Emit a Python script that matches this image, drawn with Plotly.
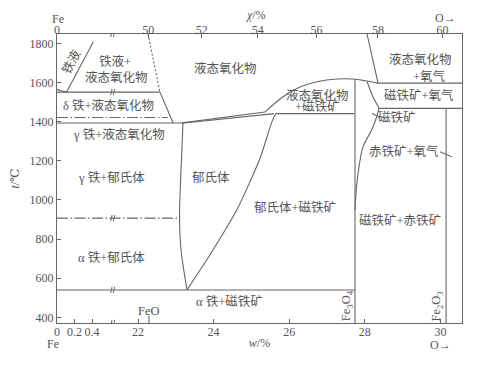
import plotly.graph_objects as go

# ---------------- axis calibration ----------------
X_MIN, X_MAX = 19.857, 30.571      # bottom axis (w/% O); left of the break = stretched Fe-rich side
T_MIN, T_MAX = 371, 1848
FE_K = 2.315                        # axis units per 1 % O on the stretched Fe-rich scale
BREAK_X = 21.33


def fe(w):
    """Position of a Fe-rich composition (w/% O) on the stretched part of the axis."""
    return X_MIN + FE_K * w


def at_to_wt(x):
    """Atomic % O -> weight % O (used for the top axis)."""
    return 1600.0 * x / (16.0 * x + 55.85 * (100.0 - x))


# ---------------- tick labels ----------------
y_ticks = [400, 600, 800, 1000, 1200, 1400, 1600, 1800]
bottom_fe_ticks = [0, 0.2, 0.4]
bottom_fe_text = ["0", "0.2", "0.4"]
bottom_ticks = [22, 24, 26, 28, 30]
top_at_ticks = [50, 52, 54, 56, 58, 60]

# ---------------- phase boundaries (w/% O, t/°C) ----------------
# Fe-rich side (real w/% O, drawn on the stretched scale)
fe_liquidus_w = [0.415, 0.11]
fe_liquidus_t = [1808, 1551]
fe_delta_w = [0.0, 0.046, 0.11]
fe_delta_t = [1565, 1558, 1551]

# isotherms that start at pure Fe
monotectic_t, monotectic_end = 1551, 22.58
gamma_liq_t, gamma_liq_end = 1393, 23.16
delta_gamma_t, delta_gamma_end = 1421, 22.79
alpha_gamma_t, alpha_gamma_end = 907, 23.11
eutectoid_t, eutectoid_end = 540, 27.74

# liquid oxide limit on the iron side
oxide_left_dot_w = [22.265, 22.58]
oxide_left_dot_t = [1848, 1551]
oxide_left_w = [22.58, 22.93]
oxide_left_t = [1551, 1393]

# wustite liquidus / solidus (double line)
wustite_liq_w = [23.16, 25.36]
wustite_liq_t = [1394, 1449]
wustite_sol_w = [23.16, 25.60]
wustite_sol_t = [1392, 1441]

# wustite field
wustite_left_w = [23.19, 23.138, 23.098, 23.138, 23.296]
wustite_left_t = [1393, 1153, 923, 744, 540]
wustite_right_w = [25.65, 25.56, 25.23, 24.963, 24.611, 23.984, 23.296]
wustite_right_t = [1441, 1408, 1214, 1093, 948, 744, 540]

# peritectic (liquid oxide + magnetite)
peritectic_t, peritectic_w0, peritectic_w1 = 1441, 25.65, 27.72

# liquidus of liquid oxide against magnetite
oxide_liquidus_w = [25.36, 25.836, 26.286, 26.735, 27.265, 27.688, 28.005, 28.349]
oxide_liquidus_t = [1449, 1527, 1577, 1604, 1618, 1618, 1609, 1597]

# stoichiometric lines
fe3o4_w, fe3o4_t = [27.74, 27.74], [1618, T_MIN]
fe2o3_w, fe2o3_t = [30.15, 30.15], [1468, T_MIN]

# oxygen-rich side
o2_liquidus_w = [28.058, 28.35]
o2_liquidus_t = [1848, 1597]
mag_o2_top_t, mag_o2_top_w0 = 1597, 28.35
mag_o2_bot_t, mag_o2_bot_w0 = 1468, 28.376
magnetite_upper_w = [28.06, 28.217, 28.376]
magnetite_upper_t = [1605, 1526, 1470]
magnetite_lower_w = [28.376, 28.315, 28.18, 27.95, 27.79, 27.74]
magnetite_lower_t = [1470, 1425, 1357, 1270, 1086, 948]

# label leader ticks
leader1_w, leader1_t = [28.19, 28.40], [1442, 1422]
leader2_w, leader2_t = [29.99, 30.30], [1246, 1221]

# ---------------- styling ----------------
LINE = "#666666"
TXT = "#555555"
NUM_FONT = "Liberation Serif, DejaVu Serif, serif"
CJK_FONT = "Liberation Serif, Noto Sans CJK SC, serif"

fig = go.Figure()


def add_line(x, y, dash="solid", width=1.1, shape="linear"):
    fig.add_trace(go.Scatter(x=x, y=y, mode="lines", hoverinfo="skip",
                             line=dict(color=LINE, width=width, dash=dash, shape=shape,
                                       smoothing=0.8),
                             showlegend=False))


DASHDOT = "11px,2.5px,1.5px,2.5px"

add_line([fe(w) for w in fe_liquidus_w], fe_liquidus_t)
add_line([fe(w) for w in fe_delta_w], fe_delta_t, shape="spline")
add_line([fe(0), monotectic_end], [monotectic_t, monotectic_t])
add_line([fe(0), gamma_liq_end], [gamma_liq_t, gamma_liq_t])
add_line([fe(0), delta_gamma_end], [delta_gamma_t, delta_gamma_t], dash=DASHDOT)
add_line([fe(0), alpha_gamma_end], [alpha_gamma_t, alpha_gamma_t], dash=DASHDOT)
add_line([fe(0), eutectoid_end], [eutectoid_t, eutectoid_t])
add_line(oxide_left_dot_w, oxide_left_dot_t, dash="2px,2px")
add_line(oxide_left_w, oxide_left_t)
add_line(wustite_liq_w, wustite_liq_t)
add_line(wustite_sol_w, wustite_sol_t)
add_line(wustite_left_w, wustite_left_t, shape="spline")
add_line(wustite_right_w, wustite_right_t, shape="spline")
add_line([peritectic_w0, peritectic_w1], [peritectic_t, peritectic_t])
add_line(oxide_liquidus_w, oxide_liquidus_t, shape="spline")
add_line(fe3o4_w, fe3o4_t)
add_line(fe2o3_w, fe2o3_t)
add_line(o2_liquidus_w, o2_liquidus_t)
add_line([mag_o2_top_w0, X_MAX], [mag_o2_top_t, mag_o2_top_t])
add_line([mag_o2_bot_w0, X_MAX], [mag_o2_bot_t, mag_o2_bot_t])
add_line(magnetite_upper_w, magnetite_upper_t, shape="spline")
add_line(magnetite_lower_w, magnetite_lower_t, shape="spline")
add_line(leader1_w, leader1_t)
add_line(leader2_w, leader2_t)
# FeO marker on the bottom axis
add_line([22.29, 22.29], [T_MIN, T_MIN + 36])

# invisible trace so the top axis is drawn
fig.add_trace(go.Scatter(x=[X_MIN, X_MAX], y=[T_MIN, T_MIN], xaxis="x2", mode="lines",
                         line=dict(width=0), hoverinfo="skip", showlegend=False))

# axis break marks "//"
break_levels = [T_MAX, monotectic_t, alpha_gamma_t, eutectoid_t, T_MIN]
for t in break_levels:
    for k in (-1, 1):
        x0 = BREAK_X + k * 0.035
        fig.add_shape(type="line", xref="x", yref="y",
                      x0=x0 - 0.02, x1=x0 + 0.02, y0=t - 16, y1=t + 16,
                      line=dict(color=LINE, width=1))

# ---------------- region labels ----------------
labels = [
    ("铁液+", 21.40, 1705, 0),
    ("液态氧化物", 21.42, 1628, 0),
    ("液态氧化物", 24.32, 1674, 0),
    ("δ 铁+液态氧化物", 21.21, 1485, 0),
    ("γ 铁+液态氧化物", 21.49, 1332, 0),
    ("γ 铁+郁氏体", 21.29, 1117, 0),
    ("郁氏体", 23.93, 1117, 0),
    ("α 铁+郁氏体", 21.29, 708, 0),
    ("α 铁+磁铁矿", 24.43, 483, 0),
    ("FeO", 22.29, 430, 0),
    ("郁氏体+磁铁矿", 26.15, 959, 0),
    ("液态氧化物", 26.76, 1536, 0),
    ("+磁铁矿", 26.76, 1479, 0),
    ("液态氧化物", 29.46, 1720, 0),
    ("+氧气", 29.72, 1633, 0),
    ("磁铁矿+氧气", 29.43, 1536, 0),
    ("磁铁矿", 28.85, 1423, 0),
    ("赤铁矿+氧气", 29.04, 1245, 0),
    ("磁铁矿+赤铁矿", 28.93, 897, 0),
    ("铁液", 20.23, 1710, -62),
    ("Fe<sub>3</sub>O<sub>4</sub>", 27.53, 457, -90),
    ("Fe<sub>2</sub>O<sub>3</sub>", 29.92, 457, -90),
]
for text, x, y, ang in labels:
    fig.add_annotation(x=x, y=y, xref="x", yref="y", text=text, showarrow=False,
                       textangle=ang, xanchor="center", yanchor="middle",
                       font=dict(family=CJK_FONT, size=12.5, color=TXT))

# end-member labels and top-axis title (paper coordinates)
for text, x, y in [("Fe", 0.003, 1.053), ("O→", 0.960, 1.056),
                   ("Fe", -0.010, -0.072), ("O→", 0.948, -0.075),
                   ("<i>χ</i>/%", 0.491, 1.066)]:
    fig.add_annotation(x=x, y=y, xref="paper", yref="paper", text=text, showarrow=False,
                       xanchor="center", yanchor="middle",
                       font=dict(family=NUM_FONT, size=12, color=TXT))

# The page body has an 8 px margin, so the figure is offset by (8, 8)
fig.update_layout(
    width=491, height=358,
    margin=dict(l=49, r=37, t=26, b=43, autoexpand=False),
    paper_bgcolor="white", plot_bgcolor="white",
    xaxis=dict(range=[X_MIN, X_MAX], showgrid=False, zeroline=False, automargin=False,
               showline=True, mirror=True, linecolor=LINE, linewidth=1.1,
               ticks="inside", ticklen=4, tickcolor=LINE, ticklabelstandoff=-2,
               tickvals=[fe(w) for w in bottom_fe_ticks] + bottom_ticks,
               ticktext=bottom_fe_text + [str(v) for v in bottom_ticks],
               tickfont=dict(family=NUM_FONT, size=12, color=TXT),
               title=dict(text="<i>w</i>/%", standoff=0,
                          font=dict(family=NUM_FONT, size=12, color=TXT))),
    xaxis2=dict(range=[X_MIN, X_MAX], overlaying="x", side="top", showgrid=False,
                zeroline=False, showline=False, automargin=False,
                ticks="inside", ticklen=4, tickcolor=LINE, ticklabelstandoff=-3,
                tickvals=[fe(0)] + [at_to_wt(v) for v in top_at_ticks],
                ticktext=["0"] + [str(v) for v in top_at_ticks],
                tickfont=dict(family=NUM_FONT, size=12, color=TXT)),
    yaxis=dict(range=[T_MIN, T_MAX], showgrid=False, zeroline=False, automargin=False,
               showline=True, mirror=True, linecolor=LINE, linewidth=1.1,
               ticks="inside", ticklen=4, tickcolor=LINE, tickvals=y_ticks,
               tickfont=dict(family=NUM_FONT, size=12, color=TXT),
               title=dict(text="<i>t</i>/℃", standoff=14,
                          font=dict(family=NUM_FONT, size=12, color=TXT))),
)

fig.write_html("out.html")
